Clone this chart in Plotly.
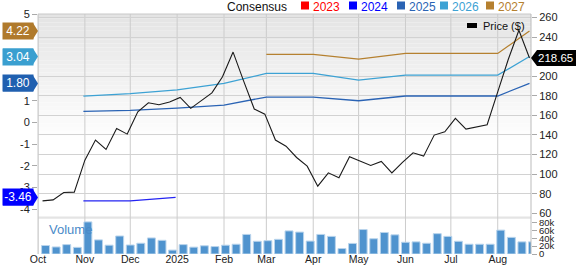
import plotly.graph_objects as go
import pandas as pd

# ---------------- data ----------------
price_dates = pd.date_range("2024-10-04", periods=47, freq="7D")
price = [72.7, 73.7, 81.3, 81.6, 114.3, 134.8, 125.2, 146.7, 140.9, 163.7,
         172.9, 170.9, 173.6, 178.4, 167.2, 175.0, 183.0, 199.5, 224.7, 195.0,
         166.5, 161.3, 134.8, 128.6, 117.0, 108.2, 87.7, 101.3, 96.2, 117.7,
         113.6, 108.9, 113.0, 101.3, 112.0, 121.8, 118.4, 139.9, 143.3, 157.0,
         146.0, 148.4, 150.5, 184.0, 217.4, 247.0, 218.65]

vol_dates = pd.date_range("2024-10-06", periods=47, freq="7D")
volume_k = [21.7, 18, 24, 17, 82, 36, 22.5, 46, 23, 27.5,
            41, 35, 10, 24, 17.5, 21, 19, 22.5, 25, 50,
            32.5, 34, 37.5, 59, 56, 33, 50, 45, 14, 27,
            62.5, 39, 55, 49, 30, 31, 27.5, 52, 45, 32.5,
            25, 25, 25, 61, 42.5, 31, 31]

est_dates_2024 = ["2024-10-31", "2024-12-01", "2024-12-31"]
est_2024 = [-3.62, -3.62, -3.46]

est_dates_long = ["2024-10-31", "2024-12-01", "2025-01-01", "2025-02-01", "2025-03-01",
                  "2025-04-01", "2025-05-01", "2025-06-01", "2025-07-01", "2025-08-01",
                  "2025-08-22"]
est_2025 = [0.51, 0.56, 0.66, 0.80, 1.17, 1.17, 1.00, 1.22, 1.22, 1.22, 1.80]
est_2026 = [1.21, 1.33, 1.50, 1.80, 2.26, 2.26, 1.95, 2.18, 2.18, 2.18, 3.04]

est_dates_2027 = ["2025-03-01", "2025-04-01", "2025-05-01", "2025-06-01",
                  "2025-07-01", "2025-08-01", "2025-08-22"]
est_2027 = [3.14, 3.14, 2.92, 3.18, 3.18, 3.18, 4.22]

month_ticks = ["2024-10-01", "2024-11-01", "2024-12-01", "2025-01-01", "2025-02-01",
               "2025-03-01", "2025-04-01", "2025-05-01", "2025-06-01", "2025-07-01",
               "2025-08-01"]
month_labels = ["Oct", "Nov", "Dec", "2025", "Feb", "Mar", "Apr", "May", "Jun", "Jul", "Aug"]

eps_ticks = [-4, -3, -2, -1, 0, 1, 5]
eps_labels = ["-4", "-3", "-2", "-1", "0", "1", "5"]
price_ticks = [60, 80, 100, 120, 140, 160, 180, 200, 240, 260]
vol_ticks = [0, 20000, 40000, 60000, 80000]
vol_labels = ["0", "20k", "40k", "60k", "80k"]

legend_years = ["2023", "2024", "2025", "2026", "2027"]
legend_colors = ["#FF0000", "#0000FF", "#2A63B4", "#3DA2D4", "#B5802F"]

# ---------------- layout helpers ----------------
W, H = 576, 266
L, R, T, B = 38, 45, 14, 12
PW, PH = W - L - R, H - T - B
FONT = "Liberation Sans, Arial, sans-serif"


def px(x):
    return (x - L) / PW


def py(y):
    return (H - B - y) / PH


main_dom = [py(213.3), 1]
vol_dom = [0, py(218)]

c2024, c2025, c2026, c2027 = "#2424F2", "#2A63B4", "#3DA2D4", "#B5802F"

fig = go.Figure()

fig.add_trace(go.Bar(x=vol_dates, y=[v * 1000 for v in volume_k], yaxis="y3",
                     marker=dict(color="#4F93CE", line=dict(color="#B9D4EC", width=1)),
                     showlegend=False, hoverinfo="skip"))

fig.add_trace(go.Scatter(x=est_dates_2024, y=est_2024, mode="lines",
                         line=dict(color=c2024, width=1.3), yaxis="y", showlegend=False))
fig.add_trace(go.Scatter(x=est_dates_long, y=est_2025, mode="lines",
                         line=dict(color=c2025, width=1.3), yaxis="y", showlegend=False))
fig.add_trace(go.Scatter(x=est_dates_long, y=est_2026, mode="lines",
                         line=dict(color=c2026, width=1.3), yaxis="y", showlegend=False))
fig.add_trace(go.Scatter(x=est_dates_2027, y=est_2027, mode="lines",
                         line=dict(color=c2027, width=1.3), yaxis="y", showlegend=False))

fig.add_trace(go.Scatter(x=price_dates, y=price, mode="lines",
                         line=dict(color="#1A1A1A", width=1.1), yaxis="y2", showlegend=False))

shapes = []
# gradient background of main panel
n = 30
top_px, end_px = 14, 140
for i in range(n):
    y0 = top_px + (end_px - top_px) * i / n
    y1 = top_px + (end_px - top_px) * (i + 1) / n
    g = int(228 + (255 - 228) * (i + 0.5) / n)
    shapes.append(dict(type="rect", xref="paper", yref="paper", x0=0, x1=1,
                       y0=py(y1), y1=py(y0), fillcolor=f"rgb({g},{g},{g})",
                       line=dict(width=0), layer="below"))
# band on top of volume panel
shapes.append(dict(type="rect", xref="paper", yref="paper", x0=0, x1=1,
                   y0=py(218.7), y1=py(216.5), fillcolor="#E4E4E4",
                   line=dict(width=0), layer="below"))
# month grid lines across the full height
for d in month_ticks:
    shapes.append(dict(type="line", xref="x", yref="paper", x0=d, x1=d, y0=0, y1=1,
                       line=dict(color="#CCCCCC", width=1), layer="below"))
# frame lines
shapes.append(dict(type="line", xref="paper", yref="paper", x0=0, x1=1, y0=1, y1=1,
                   line=dict(color="#C8C8C8", width=1)))
shapes.append(dict(type="line", xref="paper", yref="paper", x0=1, x1=1, y0=0, y1=1,
                   line=dict(color="#BBBBBB", width=1)))
shapes.append(dict(type="line", xref="paper", yref="paper", x0=0, x1=0, y0=0, y1=1,
                   line=dict(color="#C8C8C8", width=1)))

annotations = []
# left value tags
for val, col in [(est_2027[-1], "#B07A2C"), (est_2026[-1], "#3A9FD0"),
                 (est_2025[-1], "#2060B0"), (est_2024[-1], "#0000FF")]:
    shapes.append(dict(type="path", xref="paper", yref="y", xsizemode="pixel",
                       ysizemode="pixel", xanchor=0, yanchor=val,
                       path="M -35,-8 L -5,-8 L 0,0 L -5,8 L -35,8 Z",
                       fillcolor=col, line=dict(width=0), layer="above"))
    annotations.append(dict(xref="paper", yref="y", x=px(18), y=val,
                            xanchor="center", yanchor="middle",
                            text=f"{val:.2f}", showarrow=False,
                            bgcolor=col, width=30, height=16, borderpad=0,
                            font=dict(color="white", size=12, family=FONT)))
# right price tag
last_price = price[-1]
shapes.append(dict(type="path", xref="paper", yref="y2", xsizemode="pixel",
                   ysizemode="pixel", xanchor=1, yanchor=last_price,
                   path="M 0,0 L 6,-8 L 46,-8 L 46,8 L 6,8 Z",
                   fillcolor="#000000", line=dict(width=0), layer="above"))
annotations.append(dict(xref="paper", yref="y2", x=px(555.5), y=last_price,
                        xanchor="center", yanchor="middle",
                        text=f"{last_price:.2f}", showarrow=False,
                        font=dict(color="white", size=11.5, family=FONT)))

# top legend
annotations.append(dict(xref="paper", yref="paper", x=px(288.5), y=py(6.5),
                        xanchor="right", yanchor="middle",
                        text="Consensus", showarrow=False,
                        font=dict(color="#111111", size=12, family=FONT)))
sq_x = [301, 349, 397, 440, 486]
for xs, yr, col in zip(sq_x, legend_years, legend_colors):
    shapes.append(dict(type="rect", xref="paper", yref="paper", x0=px(xs), x1=px(xs + 8),
                       y0=py(9.5), y1=py(1.5), fillcolor=col, line=dict(width=0)))
    annotations.append(dict(xref="paper", yref="paper", x=px(xs + 10), y=py(6.5),
                            xanchor="left", yanchor="middle", text=yr, showarrow=False,
                            font=dict(color=col, size=12, family=FONT)))

# price legend
shapes.append(dict(type="rect", xref="paper", yref="paper", x0=px(467), x1=px(477),
                   y0=py(28), y1=py(23), fillcolor="#000000", line=dict(width=0)))
annotations.append(dict(xref="paper", yref="paper", x=px(481), y=py(25.5),
                        xanchor="left", yanchor="middle",
                        text="Price ($)", showarrow=False,
                        font=dict(color="#111111", size=11, family=FONT)))
# volume label
annotations.append(dict(xref="paper", yref="paper", x=px(47), y=py(229),
                        xanchor="left", yanchor="middle",
                        text="Volume", showarrow=False,
                        font=dict(color="#4A8AC8", size=13, family=FONT)))

tickfont = dict(size=11, color="#222222", family=FONT)

fig.update_layout(
    template="none",
    width=W, height=H,
    margin=dict(l=L, r=R, t=T, b=B, pad=0),
    paper_bgcolor="white", plot_bgcolor="rgba(0,0,0,0)",
    bargap=0.25,
    showlegend=False,
    font=dict(family=FONT),
    xaxis=dict(type="date", range=["2024-10-01", "2025-08-23"], anchor="y3",
               tickvals=month_ticks, ticktext=month_labels, ticks="",
               showgrid=False, showline=False, zeroline=False,
               tickfont=dict(size=10.5, color="#222222", family=FONT),
               ticklabelstandoff=-3, automargin=False),
    yaxis=dict(domain=main_dom, range=[-4.19, 5.0], tickvals=eps_ticks, ticktext=eps_labels,
               ticks="outside", ticklen=5, tickcolor="#AAAAAA", showgrid=False,
               zeroline=False, showline=False, tickfont=tickfont,
               anchor="x", automargin=False),
    yaxis2=dict(overlaying="y", side="right", range=[60, 263.6], tickvals=price_ticks,
                ticks="outside", ticklen=5, tickcolor="#AAAAAA", showgrid=True,
                gridcolor="#D2D2D2", gridwidth=1, zeroline=False, showline=False,
                tickfont=tickfont, anchor="x", automargin=False),
    yaxis3=dict(domain=vol_dom, side="right", range=[0, 92000], tickvals=vol_ticks,
                ticktext=vol_labels, ticks="outside", ticklen=5, tickcolor="#AAAAAA",
                showgrid=False, zeroline=False, showline=False,
                tickfont=dict(size=9.5, color="#222222", family=FONT),
                anchor="x", automargin=False),
    shapes=shapes,
    annotations=annotations,
)

fig.write_html("out.html")
